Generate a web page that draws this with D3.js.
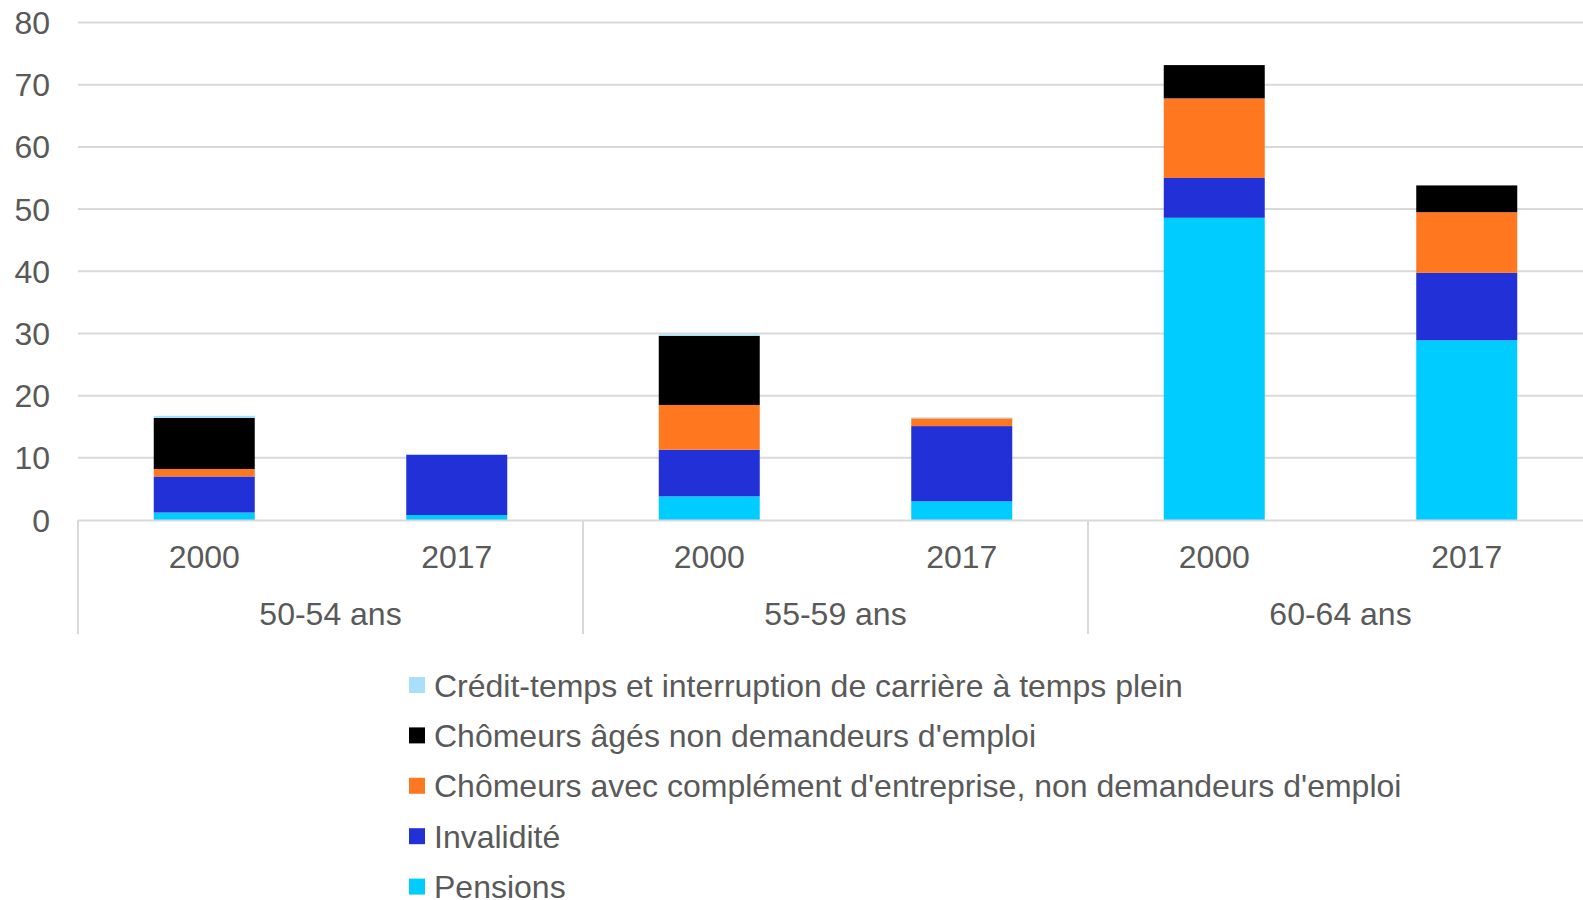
<!DOCTYPE html>
<html>
<head>
<meta charset="utf-8">
<script src="https://cdn.jsdelivr.net/npm/d3@7"></script>
<style>
  body { margin: 0; background: #fff; }
  text { font-family: "Liberation Sans", Arial, sans-serif; fill: #595959; }
</style>
</head>
<body>
<div id="chart"></div>
<script>
// categories
var groups = ["50-54 ans", "55-59 ans", "60-64 ans"];
var years = ["2000", "2017"];

// series, bottom to top of each stack (6 bars: group x year)
var pensions   = [1.2, 0.8, 3.8, 3.0, 48.6, 28.9];
var invalidite = [5.8, 9.7, 7.5, 12.1, 6.4, 10.85];
var complement = [1.2, 0.0, 7.2, 1.25, 12.8, 9.75];
var ages       = [8.2, 0.0, 11.1, 0.0, 5.35, 4.3];
var credit     = [0.35, 0.1, 0.25, 0.15, 0.0, 0.0];

var yTicks = [0, 10, 20, 30, 40, 50, 60, 70, 80];

var series = [
  { name: "Pensions", values: pensions, color: "#00ccff" },
  { name: "Invalidité", values: invalidite, color: "#2230d8" },
  { name: "Chômeurs avec complément d'entreprise, non demandeurs d'emploi", values: complement, color: "#ff781f" },
  { name: "Chômeurs âgés non demandeurs d'emploi", values: ages, color: "#000000" },
  { name: "Crédit-temps et interruption de carrière à temps plein", values: credit, color: "#a8e0fb" }
];

var width = 1583, height = 900;
var plotLeft = 78, plotRight = 1593, plotTop = 22.5, plotBottom = 520;

var bars = [];
groups.forEach(function(g, gi){
  years.forEach(function(y, yi){
    var row = { key: g + "|" + y, group: g, year: y };
    series.forEach(function(s){ row[s.name] = s.values[gi * years.length + yi]; });
    bars.push(row);
  });
});

var svg = d3.select("#chart").append("svg")
  .attr("width", width)
  .attr("height", height);

var x = d3.scaleBand()
  .domain(bars.map(function(d){ return d.key; }))
  .range([plotLeft, plotRight])
  .paddingInner(0.6)
  .paddingOuter(0.3);

var xGroup = d3.scaleBand()
  .domain(groups)
  .range([plotLeft, plotRight]);

var y = d3.scaleLinear()
  .domain([0, 80])
  .range([plotBottom, plotTop]);

// gridlines
svg.append("g")
  .selectAll("line")
  .data(yTicks.slice(1))
  .enter().append("line")
  .attr("x1", plotLeft).attr("x2", width)
  .attr("y1", function(d){ return y(d); })
  .attr("y2", function(d){ return y(d); })
  .attr("stroke", "#d9d9d9")
  .attr("stroke-width", 2);

// y labels
svg.append("g")
  .selectAll("text")
  .data(yTicks)
  .enter().append("text")
  .attr("x", 50)
  .attr("y", function(d){ return y(d); })
  .attr("dy", "0.36em")
  .attr("text-anchor", "end")
  .style("font-size", "32px")
  .text(function(d){ return d; });

// stacked bars
var stack = d3.stack().keys(series.map(function(s){ return s.name; }));
var stacked = stack(bars);

svg.append("g")
  .selectAll("g")
  .data(stacked)
  .enter().append("g")
  .attr("fill", function(d, i){ return series[i].color; })
  .selectAll("rect")
  .data(function(d){ return d; })
  .enter().append("rect")
  .attr("x", function(d){ return x(d.data.key); })
  .attr("width", x.bandwidth())
  .attr("y", function(d){ return y(d[1]); })
  .attr("height", function(d){ return y(d[0]) - y(d[1]); });

// x axis baseline
svg.append("line")
  .attr("x1", plotLeft).attr("x2", width)
  .attr("y1", plotBottom + 0.5).attr("y2", plotBottom + 0.5)
  .attr("stroke", "#d9d9d9")
  .attr("stroke-width", 2);

// group separators
svg.append("g")
  .selectAll("line")
  .data(groups)
  .enter().append("line")
  .attr("x1", function(d){ return xGroup(d); })
  .attr("x2", function(d){ return xGroup(d); })
  .attr("y1", plotBottom)
  .attr("y2", 634)
  .attr("stroke", "#d9d9d9")
  .attr("stroke-width", 2);

// year labels
svg.append("g")
  .selectAll("text")
  .data(bars)
  .enter().append("text")
  .attr("x", function(d){ return x(d.key) + x.bandwidth() / 2; })
  .attr("y", 568)
  .attr("text-anchor", "middle")
  .style("font-size", "32px")
  .text(function(d){ return d.year; });

// group labels
svg.append("g")
  .selectAll("text")
  .data(groups)
  .enter().append("text")
  .attr("x", function(d){ return xGroup(d) + xGroup.bandwidth() / 2; })
  .attr("y", 625)
  .attr("text-anchor", "middle")
  .style("font-size", "32px")
  .text(function(d){ return d; });

// legend (top to bottom, reverse of stack order)
var legendItems = series.slice().reverse();
var legend = svg.append("g")
  .selectAll("g")
  .data(legendItems)
  .enter().append("g")
  .attr("transform", function(d, i){ return "translate(409," + (685 + i * 50.4) + ")"; });

legend.append("rect")
  .attr("x", 0).attr("y", -8)
  .attr("width", 16).attr("height", 16)
  .attr("fill", function(d){ return d.color; });

legend.append("text")
  .attr("x", 25)
  .attr("y", 0)
  .attr("dy", "0.36em")
  .style("font-size", "32px")
  .text(function(d){ return d.name; });
</script>
</body>
</html>
